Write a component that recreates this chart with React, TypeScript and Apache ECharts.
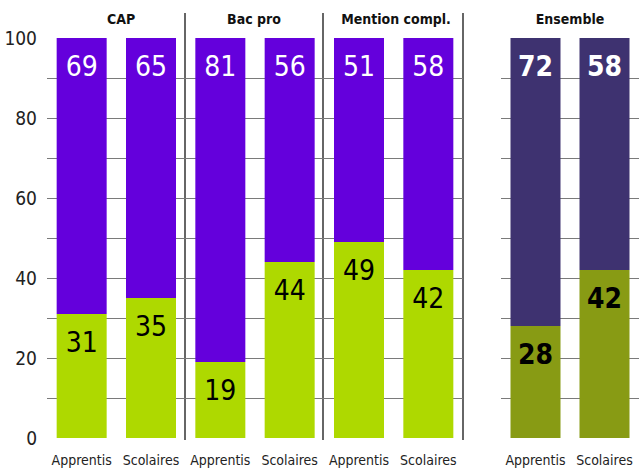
import React, { useEffect, useRef } from "react";
import * as echarts from "echarts";

const categories = ["Apprentis", "Scolaires", "Apprentis", "Scolaires", "Apprentis", "Scolaires"];
const groupTitles = ["CAP", "Bac pro", "Mention compl."];
const greenValues = [31, 35, 19, 44, 49, 42];
const purpleValues = [69, 65, 81, 56, 51, 58];
const ensembleCategories = ["Apprentis", "Scolaires"];
const ensembleTitle = "Ensemble";
const ensembleGreen = [28, 42];
const ensemblePurple = [72, 58];

const FONT = "'DejaVu Sans Condensed', 'Liberation Sans Narrow', Roboto, sans-serif";

export default function App() {
  const ref = useRef<HTMLDivElement>(null);
  useEffect(() => {
    if (!ref.current) return;
    const chart = echarts.init(ref.current, null, { renderer: "svg" });
    const yAxisBase = {
      type: "value",
      min: 0,
      max: 100,
      interval: 10,
      axisLine: { show: false },
      axisTick: { show: false },
      splitLine: {
        show: true,
        showMinLine: false,
        showMaxLine: false,
        lineStyle: { color: "#7a7a7a", width: 1 },
      },
    };
    const xAxisBase = {
      type: "category",
      axisLine: { show: false },
      axisTick: { show: false },
      axisLabel: { color: "#222", fontFamily: FONT, fontSize: 14, margin: 15, interval: 0 },
    };
    const topLabel = (bold: boolean) => ({
      show: true,
      position: "insideTop",
      distance: 14,
      color: "#fff",
      fontFamily: FONT,
      fontSize: 28,
      fontWeight: bold ? "bold" : "normal",
    });
    const bottomLabel = (bold: boolean) => ({
      show: true,
      position: "insideTop",
      distance: 14,
      color: "#000",
      fontFamily: FONT,
      fontSize: 28,
      fontWeight: bold ? "bold" : "normal",
    });
    const titleCenters = [121, 254, 396];
    const sepX = [185, 323, 463];
    const titleStyle = (text: string, x: number) => ({
      type: "text",
      x,
      y: 19,
      style: {
        text,
        fill: "#111",
        font: `bold 14px ${FONT}`,
        align: "center",
        verticalAlign: "middle",
      },
    });
    chart.setOption({
      animation: false,
      grid: [
        { left: 47, width: 416, top: 38, height: 400 },
        { left: 501, width: 139, top: 38, height: 400 },
      ],
      xAxis: [
        { ...xAxisBase, gridIndex: 0, data: categories },
        { ...xAxisBase, gridIndex: 1, data: ensembleCategories },
      ],
      yAxis: [
        {
          ...yAxisBase,
          gridIndex: 0,
          axisLabel: {
            color: "#222",
            fontFamily: FONT,
            fontSize: 19,
            margin: 10,
            formatter: (v: number) => (v % 20 === 0 ? String(v) : ""),
          },
        },
        { ...yAxisBase, gridIndex: 1, axisLabel: { show: false } },
      ],
      series: [
        {
          type: "bar",
          xAxisIndex: 0,
          yAxisIndex: 0,
          stack: "a",
          barWidth: 50,
          data: greenValues,
          itemStyle: { color: "#aed900" },
          label: bottomLabel(false),
        },
        {
          type: "bar",
          xAxisIndex: 0,
          yAxisIndex: 0,
          stack: "a",
          barWidth: 50,
          data: purpleValues,
          itemStyle: { color: "#6400dc" },
          label: topLabel(false),
        },
        {
          type: "bar",
          xAxisIndex: 1,
          yAxisIndex: 1,
          stack: "b",
          barWidth: 50,
          data: ensembleGreen,
          itemStyle: { color: "#889b14" },
          label: bottomLabel(true),
        },
        {
          type: "bar",
          xAxisIndex: 1,
          yAxisIndex: 1,
          stack: "b",
          barWidth: 50,
          data: ensemblePurple,
          itemStyle: { color: "#3e3270" },
          label: topLabel(true),
        },
      ],
      graphic: [
        ...groupTitles.map((t, i) => titleStyle(t, titleCenters[i])),
        titleStyle(ensembleTitle, 570),
        ...sepX.map((x) => ({
          type: "line",
          shape: { x1: x, y1: 13, x2: x, y2: 440 },
          style: { stroke: "#333", lineWidth: 1.5 },
        })),
      ],
    });
    return () => chart.dispose();
  }, []);
  return <div ref={ref} style={{ width: 639, height: 468, position: "absolute", left: 0, top: 0 }} />;
}
